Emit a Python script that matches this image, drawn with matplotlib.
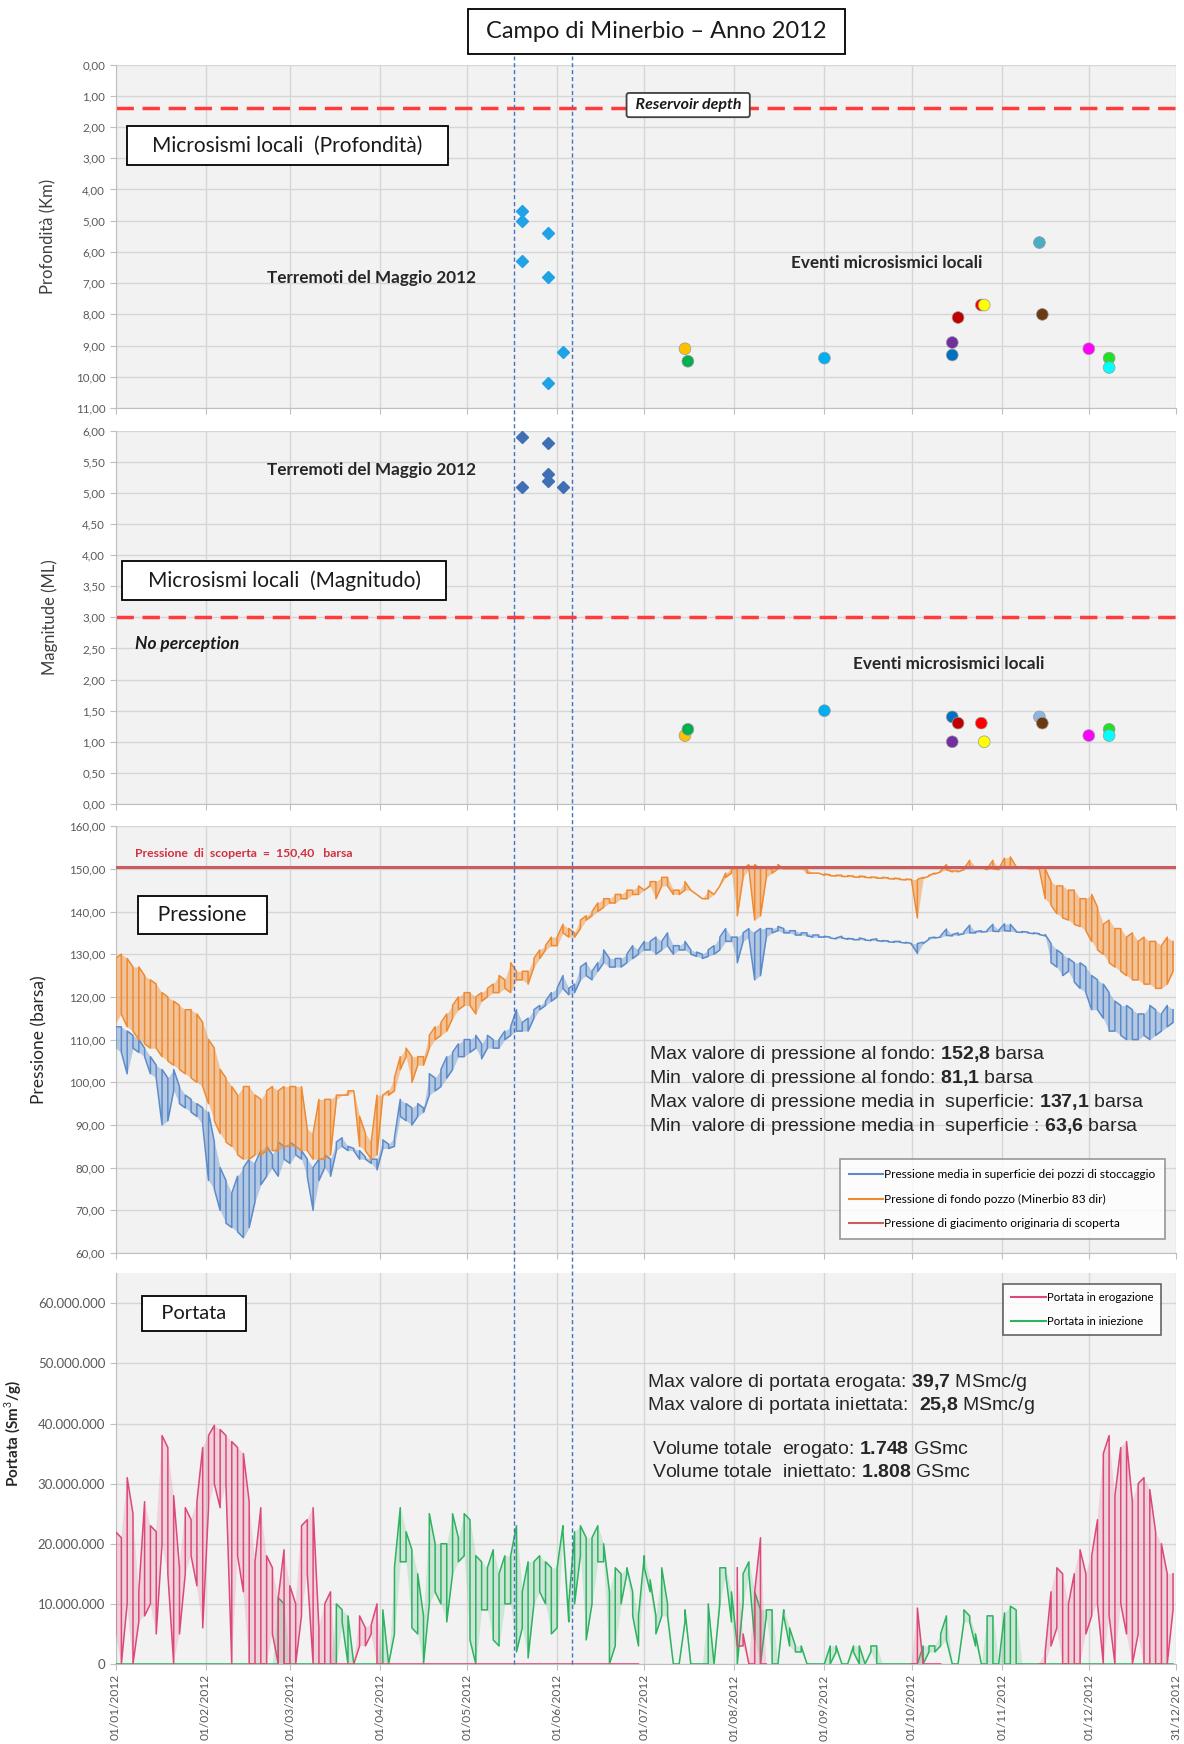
import numpy as np
import pandas as pd
import matplotlib
matplotlib.use("Agg")
import matplotlib.pyplot as plt
import matplotlib.dates as mdates
from matplotlib.lines import Line2D
from matplotlib.ticker import FuncFormatter, MultipleLocator

plt.rcParams['font.family'] = ['Lato', 'DejaVu Sans']
plt.rcParams['mathtext.fontset'] = 'custom'
plt.rcParams['mathtext.rm'] = 'Liberation Sans'
plt.rcParams['mathtext.bf'] = 'Liberation Sans:bold'

nan = np.nan

# ---------------- seismic data ----------------
# May 2012 earthquakes (diamonds)
eq_depth_dates = ['2012-05-20', '2012-05-20', '2012-05-20', '2012-05-29', '2012-05-29', '2012-05-29', '2012-06-03']
eq_depth = [4.7, 5.0, 6.3, 5.4, 6.8, 10.2, 9.2]
eq_mag_dates = ['2012-05-20', '2012-05-20', '2012-05-29', '2012-05-29', '2012-05-29', '2012-06-03']
eq_mag = [5.9, 5.1, 5.8, 5.3, 5.2, 5.1]

# local micro-seismic events (circles)
ev_dates = ['2012-07-15', '2012-07-16', '2012-09-01', '2012-10-15', '2012-10-15', '2012-10-17', '2012-10-25',
            '2012-10-26', '2012-11-14', '2012-11-15', '2012-12-01', '2012-12-08', '2012-12-08']
ev_depth = [9.1, 9.5, 9.4, 9.3, 8.9, 8.1, 7.7, 7.7, 5.7, 8.0, 9.1, 9.4, 9.7]
ev_mag = [1.1, 1.2, 1.5, 1.4, 1.0, 1.3, 1.3, 1.0, 1.4, 1.3, 1.1, 1.2, 1.1]
ev_colors = ['#FFC000', '#00B050', '#00B0F0', '#0070C0', '#7030A0', '#C00000', '#FF0000',
             '#FFFF00', '#4BACC6', '#6B3A10', '#FF00FF', '#22E022', '#00FFFF']
ev_colors_mag = list(ev_colors)
ev_colors_mag[8] = '#8DB4E2'

reservoir_depth = 1.4
no_perception = 3.0
discovery_pressure = 150.4
quake_window = ['2012-05-17', '2012-06-06']

# ---------------- time series (every 2 days, grouped per month) ----------------
MONTH_LEN = [16, 14, 16, 15, 15, 15, 16, 15, 15, 16, 15, 15]
days = pd.date_range('2012-01-01', '2012-12-30', freq='2D')

# bottom-hole pressure (Minerbio 83 dir), barsa: upper / lower envelope
fondo_hi = [
    [129, 130, 129, 127, 127, 125, 124, 123, 121, 120, 119, 118, 117, 117, 116, 114],
    [110, 108, 103, 101, 99, 97, 99, 99, 97, 96, 98, 99, 98, 99],
    [99, 99, 99, 89, 88, 96, 96, 96, 97, 97, 98, 98, 92, 88, 86, 97],
    [97, 98, 101, 106, 108, 106, 106, 106, 111, 113, 114, 116, 118, 120, 121],
    [121, 120, 121, 122, 123, 125, 124, 128, 126, 126, 126, 129, 131, 132, 134],
    [134, 137, 136, 135, 138, 139, 140, 142, 143, 143, 144, 144, 145, 145, 146],
    [145, 147, 147, 148, 148, 145, 145, 147, 145, 144, 143, 145, 144, 146, 149, 150],
    [150, 150, 151, 151, 150, 150, 150, 151, 150, 150, 150, 150, 150, 149, 149],
    [148.8, 148.6, 148.5, 148.5, 148.4, 148.3, 148.3, 148.2, 148.1, 148.0, 148.0, 147.9, 147.8, 147.7, 147.6],
    [147.5, 147.5, 148, 148.5, 149, 149.5, 151, 149.5, 149.5, 150, 152, 150.5, 150.5, 150, 152, 150],
    [152.5, 152.8, 150.5, 150.5, 150.3, 150.2, 150, 150, 147, 146, 146, 145, 145, 143, 143],
    [144, 141, 137, 138, 136, 136, 134, 135, 133, 134, 133, 133, 132, 134, 133],
]
fondo_lo = [
    [114, 116, 113, 112, 110, 109, 108, 108, 106, 105, 104, 103, 102, 101, 100, 99],
    [95, 91, 88, 86, 85, 83, 82, 82, 83, 83, 84, 84, 84, 85],
    [85, 85, 84, 84, 82, 82, 82, 83, 96, 97, 97, 98, 85, 84, 82, 83],
    [97, 97, 98, 103, 106, 100, 104, 104, 108, 110, 111, 112, 115, 117, 118],
    [118, 116, 119, 120, 121, 121, 122, 121, 124, 124, 123, 127, 129, 131, 132],
    [132, 135, 134, 134, 136, 138, 139, 140, 141, 142, 142, 143, 143, 144, 144],
    [145, 146, 143, 146, 146, 144, 144, 145, 145, 144, 143, 143, 144, 146, 148, 149],
    [139, 148, 150, 138, 139, 148, 149, 150, 150, 150, 150, 150, 149, 149, 149],
    [148.5, 148.4, 148.3, 148.2, 148.2, 148.1, 148.0, 148.0, 147.9, 147.8, 147.8, 147.7, 147.6, 147.5, 147.4],
    [147.3, 138.5, 147.8, 148.3, 148.8, 149.3, 149.8, 149.3, 149.3, 149.8, 150.5, 150.3, 150.3, 149.8, 150, 149.8],
    [150.5, 150.5, 150.3, 150.3, 150.1, 150, 149.8, 143, 141.5, 139.5, 138.5, 138, 137, 136.5, 135.5],
    [133, 131, 130, 128, 127, 126, 125, 124, 124, 123, 123, 122, 122, 123, 126],
]

# mean surface pressure of the storage wells, barsa
media_hi = [
    [113, 113, 112, 111, 110, 108, 106, 104, 103, 101, 103, 99, 97, 96, 95, 94],
    [93, 86, 80, 77, 74, 78, 80, 82, 81, 84, 85, 83, 86, 85],
    [86, 85, 84, 82, 80, 82, 83, 82, 86, 87, 85, 84.5, 84, 82.5, 82, 82],
    [86.5, 85.5, 87, 96, 95, 94, 95, 94, 102, 101, 103, 106, 107, 109, 110],
    [110, 111, 109, 111, 110, 110, 112, 113, 117, 114, 115, 117, 118, 119, 121],
    [122, 125, 122, 123, 127, 128, 126, 128, 131, 129, 129, 129, 130, 132, 131],
    [133, 133, 134, 133, 135, 132, 132, 133, 131, 130.5, 130, 131, 132, 134, 136, 134],
    [134, 135, 136, 135, 136, 136, 136, 136.5, 136, 135.5, 135.5, 135, 135, 134.5, 134.5],
    [134.2, 134.0, 133.8, 134.2, 133.7, 133.6, 133.8, 133.5, 133.4, 133.6, 133.2, 133.1, 133.0, 133.0, 132.8],
    [132.5, 132.5, 132.8, 133.8, 134, 134.3, 135.9, 134.6, 135, 135.2, 136.8, 135.3, 135.5, 135.6, 137, 135.6],
    [137.1, 137.0, 135.4, 135.3, 135.2, 135, 134.8, 134.6, 132.5, 131, 130, 129, 128, 128, 127],
    [125, 124, 123, 121, 119, 118, 118, 117, 116, 116, 118, 117, 116, 118, 117],
]
media_lo = [
    [108, 107, 102, 108, 107, 106, 102, 101, 90, 91, 98, 95, 94, 93, 92, 90],
    [77, 75, 70, 67, 66, 65, 63.6, 66, 72, 76, 78, 80, 78, 82],
    [81, 83, 82, 78, 70, 77, 80, 78, 84, 85, 84, 84, 82, 82, 81, 79.5],
    [84.5, 84.5, 85, 92, 91, 90, 92, 93, 97, 98, 99, 101, 103, 106, 106],
    [107, 108, 105.5, 108, 108, 108, 110, 111, 112, 112, 112, 115, 117, 118, 119],
    [120, 122, 120.5, 121, 124, 125, 124, 126, 128, 127, 127, 127, 128, 129, 130],
    [131, 131, 130, 131, 132, 130, 131, 131, 130, 129.5, 129, 129.5, 130, 131, 133, 133],
    [128, 133, 134, 124, 125, 134, 135, 135.5, 135, 135, 134.5, 134.5, 134.3, 134, 134],
    [134.0, 133.8, 133.6, 133.8, 133.5, 133.4, 133.4, 133.3, 133.2, 133.2, 133.0, 132.9, 132.8, 132.8, 132.6],
    [132.3, 130.2, 132.5, 133.5, 133.8, 134.0, 134.4, 134.3, 134.5, 134.8, 135, 135, 135.2, 135.3, 135.4, 135.3],
    [135.5, 135.4, 135.2, 135.1, 135, 134.8, 134.6, 134.3, 128, 127, 125, 126, 123.5, 122, 121],
    [117, 117, 115, 112, 112, 111, 110, 110, 110, 111, 110, 111, 112, 113, 114],
]

# withdrawal flow rate (erogazione), million Sm3/day
eroga_hi = [
    [22, 21, 31, 25, 12, 27, 23, 22, 38, 36, 28, 16, 26, 24, 27, 36],
    [38, 39.7, 39, 38, 37, 36, 35, 27, 17, 26, 18, 16, 11, 19],
    [13, 10, 23, 24, 26, 6, 10, 12, 0, 0, 0, 0, 8, 6, 6.5, 10],
    [0] * 15,
    [0] * 15,
    [0] * 15,
    [nan] * 16,
    [16, 5, 0, 12, 21, 0] + [nan] * 9,
    [nan] * 15,
    [0, 9.3, 0, 0, 0, 0] + [nan] * 10,
    [nan] * 6 + [0, 2, 12, 16, 15, 10, 15, 19, 15],
    [18, 24, 35, 38, 28, 36, 37, 27, 30, 31, 29, 22, 20, 15, 15],
]
eroga_lo = [
    [5, 0, 10, 0, 7, 8, 10, 5, 20, 15, 0, 5, 15, 18, 13, 6],
    [26, 30, 26, 30, 0, 18, 12, 0, 0, 0, 0, 5, 0, 0],
    [0, 0, 8, 15, 0, 0, 0, 0, 0, 0, 0, 0, 3, 3, 5, 0],
    [0] * 15,
    [0] * 15,
    [0] * 15,
    [nan] * 16,
    [3, 3, 0, 0, 0, 0] + [nan] * 9,
    [nan] * 15,
    [0, 0, 0, 0, 0, 0] + [nan] * 10,
    [nan] * 6 + [0, 0, 3, 6, 0, 0, 0, 0, 5],
    [8, 10, 0, 8, 0, 10, 5, 0, 5, 0, 0, 0, 0, 0, 9],
]

# injection flow rate (iniezione), million Sm3/day
inie_hi = [
    [0] * 16,
    [0, 0, 0, 0, 0, 0, 0, 0, 0, 0, 0, 0, 11, 10],
    [0, 0, 0, 0, 0, 0, 0, 0, 10, 9, 8, 0, 0, 0, 0, 0],
    [9, 0, 16, 26, 22, 19, 15, 8, 25, 20, 20, 20, 25, 21, 25],
    [24, 18, 17, 16, 19, 15, 18, 18, 23, 12, 17, 17, 18, 17, 16],
    [16, 23, 10, 22, 23, 21, 21, 23, 20, 12, 16, 15, 16, 12, 8],
    [18, 14, 8, 16, 10, 0, 0, 9, 0, 0, 0, 10, 0, 16, 16, 12],
    [3, 15, 17, 12, 9, 9, 9, 0, 9, 6, 3, 3, 0, 0, 0],
    [0, 3, 3, 0, 0, 3, 3, 0, 3, 3, 0, 0, 0, 0, 0],
    [0, 0, 3, 3, 3, 5, 8, 0, 0, 9, 8, 5, 0, 8, 8, 0],
    [8.5, 9.6, 9, 0, 0, 0, 0, 0, 0, 0, 0, 0, 0, 0, 0],
    [0] * 15,
]
inie_lo = [
    [0] * 16,
    [0] * 14,
    [0, 0, 0, 0, 0, 0, 0, 0, 0, 7, 0, 0, 0, 0, 0, 0],
    [0, 0, 5, 17, 17, 6, 5, 0, 10, 12, 10, 7, 15, 17, 18],
    [4, 0, 9, 9, 4, 3, 10, 10, 2, 6, 1, 10, 12, 10, 5],
    [6, 22, 7, 10, 18, 4, 10, 17, 17, 0, 3, 10, 15, 8, 3],
    [16, 12, 5, 8, 8, 0, 0, 7, 0, 0, 0, 0, 0, 10, 15, 7],
    [0, 10, 15, 4, 0, 8, 0, 0, 8, 3, 2, 2, 0, 0, 0],
    [0, 0, 2, 0, 0, 2, 0, 0, 2, 0, 0, 0, 0, 0, 0],
    [0, 0, 0, 2, 2, 3, 4, 0, 0, 7, 7, 3, 0, 0, 0, 0],
    [0] * 15,
    [0] * 15,
]

pressure_notes = ["Max valore di pressione al fondo: $\\mathbf{152{,}8}$ barsa",
                  "Min  valore di pressione al fondo: $\\mathbf{81{,}1}$ barsa",
                  "Max valore di pressione media in  superficie: $\\mathbf{137{,}1}$ barsa",
                  "Min  valore di pressione media in  superficie : $\\mathbf{63{,}6}$ barsa"]
flow_notes = ["Max valore di portata erogata: $\\mathbf{39{,}7}$ MSmc/g",
              "Max valore di portata iniettata:  $\\mathbf{25{,}8}$ MSmc/g"]
volume_notes = ["Volume totale  erogato: $\\mathbf{1.748}$ GSmc",
                "Volume totale  iniettato: $\\mathbf{1.808}$ GSmc"]


def flat(parts):
    for p, n in zip(parts, MONTH_LEN):
        assert len(p) == n, (len(p), n)
    return np.array(sum(parts, []), dtype=float)


def band(lo, hi):
    # each sample drawn as a vertical stroke lo->hi, alternating direction
    lo, hi = flat(lo), flat(hi)
    xs = np.repeat(days.values, 2)
    ys = np.empty(xs.size)
    ys[0::4] = lo[0::2]
    ys[1::4] = hi[0::2]
    ys[2::4] = hi[1::2]
    ys[3::4] = lo[1::2]
    return xs, ys


def draw_band(ax, lo, hi, color, alpha, z):
    ax.fill_between(days.values, flat(lo), flat(hi), color=color, alpha=alpha, lw=0, zorder=z)
    ax.plot(*band(lo, hi), color=color, lw=1.1, zorder=z)


comma2 = FuncFormatter(lambda v, p: f"{v:.2f}".replace('.', ','))
thousands = FuncFormatter(lambda v, p: f"{int(round(v * 1e6)):,}".replace(',', '.'))

x0, x1 = pd.Timestamp('2012-01-01'), pd.Timestamp('2012-12-31')
month_ticks = list(pd.date_range('2012-01-01', '2012-12-01', freq='MS')) + [x1]

fig = plt.figure(figsize=(11.84, 17.44), dpi=100)
L, W = 0.0976, 0.8956
ax1 = fig.add_axes([L, 0.766, W, 0.197])
ax2 = fig.add_axes([L, 0.539, W, 0.214])
ax3 = fig.add_axes([L, 0.2815, W, 0.2448])
ax4 = fig.add_axes([L, 0.0459, W, 0.224])


def style(ax):
    ax.set_facecolor('#f2f2f2')
    ax.set_xlim(x0, x1)
    ax.set_xticks(month_ticks)
    ax.grid(True, color='#d6d6d6', lw=1)
    ax.set_axisbelow(True)
    for s in ['top', 'right']:
        ax.spines[s].set_visible(False)
    for s in ['left', 'bottom']:
        ax.spines[s].set_color('#bfbfbf')
    ax.tick_params(colors='#bfbfbf', labelcolor='#595959', labelsize=8.3, length=4)


def boxed(ax, x, y, s, size=15):
    ax.text(x, y, s, transform=ax.transAxes, ha='center', va='center', fontsize=size,
            color='#1a1a1a', zorder=6,
            bbox=dict(boxstyle='square,pad=0.45', fc='white', ec='black', lw=1.3))


txt = dict(ha='center', va='center', fontsize=12.3, fontweight='bold', color='#262626')

for ax in (ax1, ax2, ax3, ax4):
    style(ax)
for ax in (ax1, ax2, ax3):
    ax.tick_params(labelbottom=False)

# ---- panel 1: depth
ax1.set_ylim(11, 0)
ax1.yaxis.set_major_locator(MultipleLocator(1))
ax1.yaxis.set_major_formatter(comma2)
ax1.axhline(reservoir_depth, color='#FF3B3B', lw=2.5, dashes=(5, 2.5), zorder=2)
ax1.plot(pd.to_datetime(eq_depth_dates), eq_depth, 'D', color='#1FA2E6', ms=6, ls='none', zorder=3)
ax1.scatter(pd.to_datetime(ev_dates), ev_depth, c=ev_colors, s=72, edgecolors='#9a9a9a',
            linewidths=0.5, zorder=4)
ax1.set_ylabel('Profondità (Km)', fontsize=12, color='#404040')
ax1.yaxis.set_label_coords(-0.056, 0.5)
boxed(ax1, 0.162, 0.764, '   Microsismi locali  (Profondità)   ')
ax1.text(0.241, 0.378, 'Terremoti del Maggio 2012', transform=ax1.transAxes, **txt)
ax1.text(0.727, 0.421, 'Eventi microsismici locali', transform=ax1.transAxes, **txt)
ax1.text(0.54, 0.882, ' Reservoir depth ', transform=ax1.transAxes, ha='center', va='center',
         fontsize=11.5, fontweight='bold', fontstyle='italic', color='#1a1a1a', zorder=6,
         bbox=dict(boxstyle='round,pad=0.32,rounding_size=0.15', fc='white', ec='#404040', lw=1.3))

# ---- panel 2: magnitude
ax2.set_ylim(0, 6)
ax2.yaxis.set_major_locator(MultipleLocator(0.5))
ax2.yaxis.set_major_formatter(comma2)
ax2.axhline(no_perception, color='#FF3B3B', lw=2.5, dashes=(5, 2.5), zorder=2)
ax2.plot(pd.to_datetime(eq_mag_dates), eq_mag, 'D', color='#3F6FB5', ms=6, ls='none', zorder=3)
ax2.scatter(pd.to_datetime(ev_dates), ev_mag, c=ev_colors_mag, s=72, edgecolors='#9a9a9a',
            linewidths=0.5, zorder=4)
ax2.set_ylabel('Magnitude (ML)', fontsize=12, color='#404040')
ax2.yaxis.set_label_coords(-0.054, 0.5)
boxed(ax2, 0.159, 0.598, '   Microsismi locali  (Magnitudo)   ')
ax2.text(0.241, 0.896, 'Terremoti del Maggio 2012', transform=ax2.transAxes, **txt)
ax2.text(0.786, 0.375, 'Eventi microsismici locali', transform=ax2.transAxes, **txt)
ax2.text(0.018, 0.43, 'No perception', transform=ax2.transAxes, ha='left', va='center',
         fontsize=12.5, fontweight='bold', fontstyle='italic', color='#1a1a1a')

# ---- panel 3: pressure
ax3.set_ylim(60, 160)
ax3.yaxis.set_major_locator(MultipleLocator(10))
ax3.yaxis.set_major_formatter(comma2)
c_blue, c_orange, c_red = '#5B8BCB', '#F08A30', '#CD5C5F'
draw_band(ax3, media_lo, media_hi, c_blue, 0.4, 3)
draw_band(ax3, fondo_lo, fondo_hi, c_orange, 0.45, 4)
ax3.axhline(discovery_pressure, color=c_red, lw=2.2, zorder=5)
ax3.text(0.018, 0.935, 'Pressione  di  scoperta  =  150,40   barsa', transform=ax3.transAxes,
         fontsize=8.8, fontweight='bold', color='#D03040', va='center')
ax3.set_ylabel('Pressione (barsa)', fontsize=12.5, color='#262626')
ax3.yaxis.set_label_coords(-0.064, 0.5)
boxed(ax3, 0.082, 0.792, '  Pressione  ')
for i, s in enumerate(pressure_notes):
    ax3.text(0.503, 0.466 - i * 0.0562, s, transform=ax3.transAxes, family='Liberation Sans',
             fontsize=14, va='center', color='#262626')
h3 = [Line2D([], [], color=c_blue, lw=1.5), Line2D([], [], color=c_orange, lw=1.5),
      Line2D([], [], color=c_red, lw=1.5)]
lg3 = ax3.legend(h3, ['Pressione media in superficie dei pozzi di stoccaggio',
                      'Pressione di fondo pozzo (Minerbio 83 dir)',
                      'Pressione di giacimento originaria di scoperta'],
                 loc='lower right', bbox_to_anchor=(0.995, 0.019), fontsize=8.6, frameon=True,
                 fancybox=False, edgecolor='#7f7f7f', handlelength=2.8, labelspacing=1.15,
                 borderpad=0.8, handletextpad=0.1)
lg3.get_frame().set_linewidth(1.2)
lg3.set_zorder(7)

# ---- panel 4: flow
ax4.set_ylim(0, 65)
ax4.set_yticks(range(0, 61, 10))
ax4.yaxis.set_major_formatter(thousands)
c_pink, c_green = '#DD4878', '#2DB360'
draw_band(ax4, inie_lo, inie_hi, c_green, 0.18, 3)
draw_band(ax4, eroga_lo, eroga_hi, c_pink, 0.18, 4)
ax4.xaxis.set_major_formatter(mdates.DateFormatter('%d/%m/%Y'))
ax4.tick_params(axis='x', labelrotation=90, labelsize=8.6)
ax4.tick_params(axis='y', labelsize=9.5)
ax4.set_ylabel('Portata (Sm$^3$/g)', fontsize=11, color='#262626', fontweight='bold')
ax4.yaxis.set_label_coords(-0.085, 0.59)
boxed(ax4, 0.074, 0.897, '  Portata  ', size=14.5)
for i, s in enumerate(flow_notes):
    ax4.text(0.501, 0.721 - i * 0.06, s, transform=ax4.transAxes, family='Liberation Sans',
             fontsize=14, va='center', color='#262626')
for i, s in enumerate(volume_notes):
    ax4.text(0.506, 0.55 - i * 0.06, s, transform=ax4.transAxes, family='Liberation Sans',
             fontsize=14, va='center', color='#262626')
h4 = [Line2D([], [], color=c_pink, lw=1.5), Line2D([], [], color=c_green, lw=1.5)]
lg4 = ax4.legend(h4, ['Portata in erogazione', 'Portata in iniezione'], loc='upper right',
                 bbox_to_anchor=(0.9915, 0.987), fontsize=8.2, frameon=True, fancybox=False,
                 edgecolor='#404040', handlelength=3, labelspacing=1.1, borderpad=0.7,
                 handletextpad=0.1)
lg4.get_frame().set_linewidth(1.2)

# ---- title
fig.text(0.5545, 0.982, ' Campo di Minerbio – Anno 2012 ', ha='center', va='center', fontsize=17,
         color='#1a1a1a', bbox=dict(boxstyle='square,pad=0.5', fc='white', ec='black', lw=1.3))

# ---- blue dashed lines marking the May 2012 earthquakes, across all panels
inv = fig.transFigure.inverted()
for d in quake_window:
    xd = mdates.date2num(pd.Timestamp(d))
    xf = inv.transform(ax4.transData.transform((xd, 0)))[0]
    fig.add_artist(Line2D([xf, xf], [0.0459, 0.968], transform=fig.transFigure, color='#4472C4',
                          lw=1.0, dashes=(3, 2), zorder=10))

fig.savefig('out.png', dpi=100, facecolor='white')
